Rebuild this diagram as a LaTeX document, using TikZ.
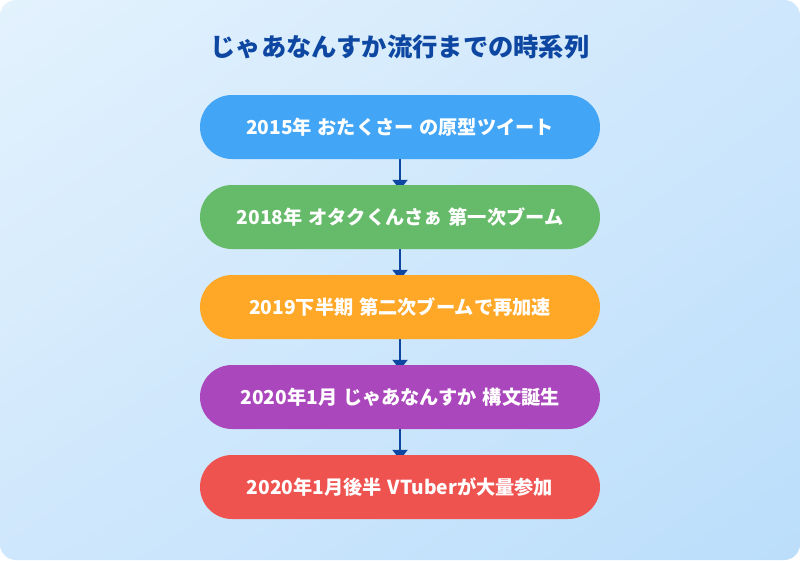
\documentclass[tikz,border=0pt]{standalone}
\usepackage{fontspec}
\setmainfont{Noto Sans CJK JP}
\usetikzlibrary{arrows.meta,positioning,backgrounds,shadings}
\definecolor{bgtop}{HTML}{E3F2FD}
\definecolor{bgmid}{HTML}{CFE7FC}
\definecolor{bgbot}{HTML}{BBDEFB}
\definecolor{titleblue}{HTML}{0D47A1}
\definecolor{stepblue}{HTML}{42A5F5}
\definecolor{stepgreen}{HTML}{66BB6A}
\definecolor{steporange}{HTML}{FFA726}
\definecolor{steppurple}{HTML}{AB47BC}
\definecolor{stepred}{HTML}{EF5350}
\tikzset{
  pill/.style={draw=none, rounded corners=32pt, minimum width=400pt, minimum height=64pt,
    text=white, font=\fontsize{19.2}{22}\selectfont\bfseries, inner sep=0pt},
  flow/.style={line width=2.2pt, color=titleblue, -{Triangle[length=10pt,width=15pt]}, shorten >=-5pt}
}
\begin{document}
\begin{tikzpicture}[x=1pt, y=-1pt]
			%%%%% START %%%%%
			\useasboundingbox (0,0) rectangle (800,560);
			
			\node[font=\fontsize{25.3}{28}\selectfont\bfseries, text=titleblue] (title) at (400,47) {じゃあなんすか流行までの時系列};
			
			\node[pill, fill=stepblue] (y2015) at (400,127) {2015年\hspace{0.3em}おたくさー\hspace{0.3em}の原型ツイート};
			\node[pill, fill=stepgreen] (y2018) at (400,217) {2018年\hspace{0.3em}オタクくんさぁ\hspace{0.3em}第一次ブーム};
			\node[pill, fill=steporange] (y2019) at (400,307) {2019下半期\hspace{0.3em}第二次ブームで再加速};
			\node[pill, fill=steppurple] (y2020a) at (400,397) {2020年1月\hspace{0.3em}じゃあなんすか\hspace{0.3em}構文誕生};
			\node[pill, fill=stepred] (y2020b) at (400,487) {2020年1月後半\hspace{0.3em}VTuberが大量参加};
			
			\begin{pgfonlayer}{background}
			\shade[rounded corners=16pt, upper left=bgtop, upper right=bgmid, lower left=bgmid, lower right=bgbot] (0,0) rectangle (800,560);
			
			\draw[flow] (y2015) -- (y2018);
			\draw[flow] (y2018) -- (y2019);
			\draw[flow] (y2019) -- (y2020a);
			\draw[flow] (y2020a) -- (y2020b);
			\end{pgfonlayer}
			
			%%%%% END %%%%%
\end{tikzpicture}
\end{document}
